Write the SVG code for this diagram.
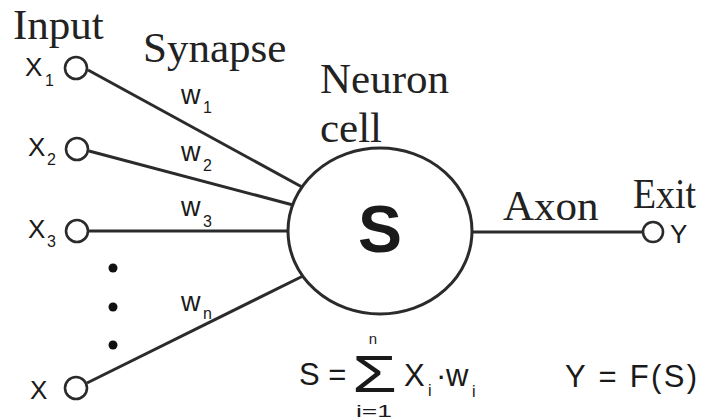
<svg xmlns="http://www.w3.org/2000/svg" width="701" height="419" viewBox="0 0 701 419">
<style>
.bg{fill:#fff}
.line{stroke:#2b2b2b;stroke-width:3;fill:none}
.port{fill:#fff;stroke:#2b2b2b;stroke-width:2.6}
.serif{font-family:"Liberation Serif","Times New Roman",serif;font-size:43px;fill:#222}
.sans{font-family:"Liberation Sans",Arial,sans-serif;fill:#1a1a1a}
.xl{font-size:26px}
.sub{font-size:16px}
.wl{font-size:27px}
.f{font-size:31px}
.dot{fill:#111}
</style>
<rect class="bg" x="0" y="0" width="701" height="419"/>
<g id="connectors">
<line class="line" x1="88" y1="70" x2="302" y2="187"/>
<line class="line" x1="89" y1="151" x2="293" y2="205"/>
<line class="line" x1="89" y1="231" x2="288" y2="231"/>
<line class="line" x1="87" y1="383" x2="303" y2="276"/>
<line class="line" x1="472" y1="232" x2="643" y2="232"/>
</g>
<g id="input-x1">
<circle class="port" cx="76" cy="68" r="11"/>
<text class="sans xl" x="25" y="76">X</text><text class="sans sub" x="45" y="86">1</text>
</g>
<g id="input-x2">
<circle class="port" cx="77" cy="149" r="11"/>
<text class="sans xl" x="28" y="156">X</text><text class="sans sub" x="47" y="165">2</text>
</g>
<g id="input-x3">
<circle class="port" cx="77" cy="231" r="11"/>
<text class="sans xl" x="28" y="238">X</text><text class="sans sub" x="47" y="247">3</text>
</g>
<g id="ellipsis">
<circle class="dot" cx="113" cy="268" r="4.5"/>
<circle class="dot" cx="113" cy="307" r="4.5"/>
<circle class="dot" cx="113" cy="345" r="4.5"/>
</g>
<g id="input-xn">
<circle class="port" cx="76" cy="388" r="11"/>
<text class="sans xl" x="30" y="399">X</text>
</g>
<g id="weights">
<text class="sans wl" x="181" y="104">w</text><text class="sans sub" x="203" y="113">1</text>
<text class="sans wl" x="181" y="161">w</text><text class="sans sub" x="203" y="171">2</text>
<text class="sans wl" x="181" y="216">w</text><text class="sans sub" x="203" y="227">3</text>
<text class="sans wl" x="181" y="311">w</text><text class="sans sub" x="203" y="319">n</text>
</g>
<g id="neuron">
<ellipse cx="380" cy="231" rx="92" ry="83" fill="#fff" stroke="#2b2b2b" stroke-width="3"/>
<text class="sans" x="380" y="252" font-size="66" font-weight="bold" text-anchor="middle">S</text>
</g>
<g id="exit">
<circle class="port" cx="653" cy="232" r="10"/>
<text class="sans xl" x="670" y="243">Y</text>
</g>
<g id="labels">
<text class="serif" x="13" y="39">Input</text>
<text class="serif" x="143" y="62">Synapse</text>
<text class="serif" x="320" y="93">Neuron</text>
<text class="serif" x="320" y="142">cell</text>
<text class="serif" x="503" y="220">Axon</text>
<text class="serif" x="633" y="208" textLength="63" lengthAdjust="spacingAndGlyphs">Exit</text>
</g>
<g id="formula">
<text class="sans f" x="299" y="385">S =</text>
<text class="sans" x="352" y="392" font-size="52" textLength="45" lengthAdjust="spacingAndGlyphs">Σ</text>
<text class="sans" x="373" y="344" font-size="15" text-anchor="middle">n</text>
<text class="sans" x="356" y="417" font-size="16" textLength="36" lengthAdjust="spacingAndGlyphs">i=1</text>
<text class="sans f" x="404" y="386">X</text>
<text class="sans sub" x="428" y="396">i</text>
<text class="sans f" x="436" y="386">·</text>
<text class="sans f" x="446" y="386">w</text>
<text class="sans sub" x="472" y="397">i</text>
<text class="sans f" x="565" y="387" textLength="132" lengthAdjust="spacing">Y = F(S)</text>
</g>
</svg>
